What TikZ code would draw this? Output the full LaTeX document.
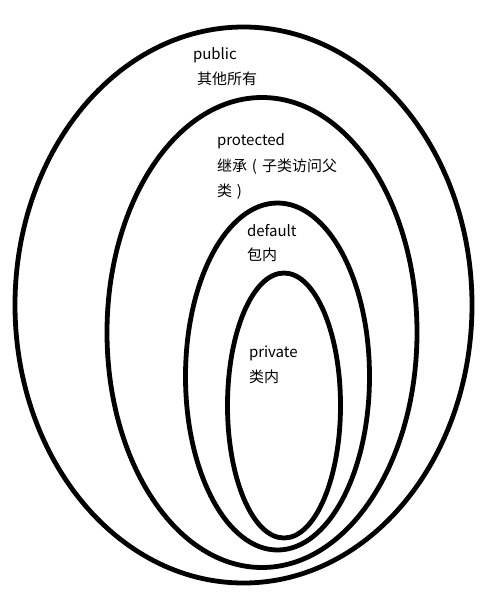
\documentclass[tikz,border=0pt]{standalone}
\usepackage{fontspec}
\setmainfont{Noto Sans CJK SC}
\newcommand{\fwparen}[1]{\makebox[1em][c]{#1}}
\begin{document}
\begin{tikzpicture}[x=1pt,y=-1pt,
  ring/.style={line width=4.8pt,draw=black},
  lbl/.style={anchor=base west,inner sep=0pt,outer sep=0pt,font=\fontsize{15}{17}\selectfont,text=black}]
\useasboundingbox[fill=white] (0,0) rectangle (483,592);
% rings
\draw[ring] (243.5,305) ellipse [x radius=228.5pt, y radius=278pt];
\draw[ring] (262,332.5) ellipse [x radius=155pt, y radius=235pt];
\draw[ring] (277.5,376.5) ellipse [x radius=92pt, y radius=173.5pt];
\draw[ring] (284,405.5) ellipse [x radius=56.5pt, y radius=132.5pt];
% labels
\node[lbl] (pub) at (193,59.5) {public};
\node[lbl] (pubz) at (197,84) {其他所有};
\node[lbl] (pro) at (217,145) {protected};
\node[lbl] (proz1) at (217,171) {继承\fwparen{(}子类访问父};
\node[lbl] (proz2) at (217,196) {类\fwparen{)}};
\node[lbl] (def) at (247,236) {default};
\node[lbl] (defz) at (247,260) {包内};
\node[lbl] (pri) at (249,357) {private};
\node[lbl] (priz) at (249,382) {类内};
\end{tikzpicture}
\end{document}
